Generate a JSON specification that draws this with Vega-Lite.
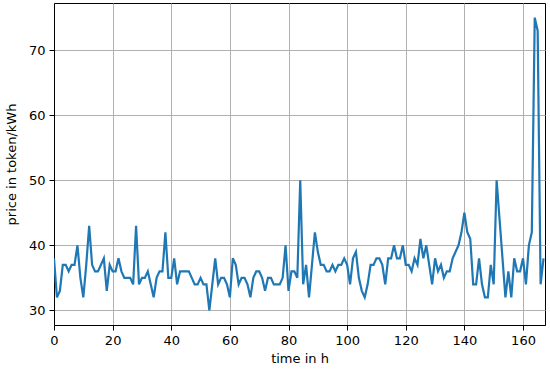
{
  "$schema": "https://vega.github.io/schema/vega-lite/v6.json",
  "autosize": {"type": "none"},
  "width": 491,
  "height": 322,
  "padding": {"left": 54, "top": 3, "right": 5, "bottom": 45},
  "background": "white",
  "config": {
    "view": {"stroke": "black", "strokeWidth": 1},
    "font": "DejaVu Sans",
    "axis": {
      "labelFont": "DejaVu Sans",
      "titleFont": "DejaVu Sans",
      "labelFontSize": 13,
      "titleFontSize": 13,
      "titleFontWeight": "normal",
      "labelColor": "black",
      "titleColor": "black",
      "domainColor": "black",
      "tickColor": "black",
      "tickSize": 5,
      "gridColor": "#b0b0b0",
      "gridWidth": 1,
      "gridOpacity": 1
    }
  },
  "data": {"values": [
    {"t":0,"p":38},{"t":1,"p":32},{"t":2,"p":33},{"t":3,"p":37},{"t":4,"p":37},{"t":5,"p":36},{"t":6,"p":37},{"t":7,"p":37},{"t":8,"p":40},{"t":9,"p":35},
    {"t":10,"p":32},{"t":11,"p":37},{"t":12,"p":43},{"t":13,"p":37},{"t":14,"p":36},{"t":15,"p":36},{"t":16,"p":37},{"t":17,"p":38},{"t":18,"p":33},{"t":19,"p":37},
    {"t":20,"p":36},{"t":21,"p":36},{"t":22,"p":38},{"t":23,"p":36},{"t":24,"p":35},{"t":25,"p":35},{"t":26,"p":35},{"t":27,"p":34},{"t":28,"p":43},{"t":29,"p":34},
    {"t":30,"p":35},{"t":31,"p":35},{"t":32,"p":36},{"t":33,"p":34},{"t":34,"p":32},{"t":35,"p":35},{"t":36,"p":36},{"t":37,"p":36},{"t":38,"p":42},{"t":39,"p":35},
    {"t":40,"p":35},{"t":41,"p":38},{"t":42,"p":34},{"t":43,"p":36},{"t":44,"p":36},{"t":45,"p":36},{"t":46,"p":36},{"t":47,"p":35},{"t":48,"p":34},{"t":49,"p":34},
    {"t":50,"p":35},{"t":51,"p":34},{"t":52,"p":34},{"t":53,"p":30},{"t":54,"p":34},{"t":55,"p":38},{"t":56,"p":34},{"t":57,"p":35},{"t":58,"p":35},{"t":59,"p":34},
    {"t":60,"p":32},{"t":61,"p":38},{"t":62,"p":37},{"t":63,"p":34},{"t":64,"p":35},{"t":65,"p":35},{"t":66,"p":34},{"t":67,"p":32},{"t":68,"p":35},{"t":69,"p":36},
    {"t":70,"p":36},{"t":71,"p":35},{"t":72,"p":33},{"t":73,"p":35},{"t":74,"p":35},{"t":75,"p":34},{"t":76,"p":34},{"t":77,"p":34},{"t":78,"p":35},{"t":79,"p":40},
    {"t":80,"p":33},{"t":81,"p":36},{"t":82,"p":36},{"t":83,"p":35},{"t":84,"p":50},{"t":85,"p":34},{"t":86,"p":37},{"t":87,"p":32},{"t":88,"p":37},{"t":89,"p":42},
    {"t":90,"p":39},{"t":91,"p":37},{"t":92,"p":37},{"t":93,"p":36},{"t":94,"p":36},{"t":95,"p":37},{"t":96,"p":36},{"t":97,"p":37},{"t":98,"p":37},{"t":99,"p":38},
    {"t":100,"p":37},{"t":101,"p":34},{"t":102,"p":38},{"t":103,"p":39},{"t":104,"p":35},{"t":105,"p":33},{"t":106,"p":32},{"t":107,"p":34},{"t":108,"p":37},{"t":109,"p":37},
    {"t":110,"p":38},{"t":111,"p":38},{"t":112,"p":37},{"t":113,"p":34},{"t":114,"p":38},{"t":115,"p":38},{"t":116,"p":40},{"t":117,"p":38},{"t":118,"p":38},{"t":119,"p":40},
    {"t":120,"p":37},{"t":121,"p":37},{"t":122,"p":36},{"t":123,"p":38},{"t":124,"p":37},{"t":125,"p":41},{"t":126,"p":38},{"t":127,"p":40},{"t":128,"p":37},{"t":129,"p":34},
    {"t":130,"p":38},{"t":131,"p":36},{"t":132,"p":37},{"t":133,"p":35},{"t":134,"p":36},{"t":135,"p":36},{"t":136,"p":38},{"t":137,"p":39},{"t":138,"p":40},{"t":139,"p":42},
    {"t":140,"p":45},{"t":141,"p":42},{"t":142,"p":41},{"t":143,"p":34},{"t":144,"p":34},{"t":145,"p":38},{"t":146,"p":34},{"t":147,"p":32},{"t":148,"p":32},{"t":149,"p":37},
    {"t":150,"p":34},{"t":151,"p":50},{"t":152,"p":44},{"t":153,"p":38},{"t":154,"p":32},{"t":155,"p":36},{"t":156,"p":32},{"t":157,"p":38},{"t":158,"p":36},{"t":159,"p":36},
    {"t":160,"p":38},{"t":161,"p":34},{"t":162,"p":40},{"t":163,"p":42},{"t":164,"p":75},{"t":165,"p":73},{"t":166,"p":34},{"t":167,"p":38}
  ]},
  "mark": {"type": "line", "color": "#1f77b4", "strokeWidth": 2.2, "clip": true},
  "encoding": {
    "x": {
      "field": "t", "type": "quantitative",
      "scale": {"domain": [0, 167.5], "nice": false, "zero": false},
      "axis": {"title": "time in h", "values": [0,20,40,60,80,100,120,140,160], "labelPadding": 4, "titlePadding": 5, "labelFlush": false}
    },
    "y": {
      "field": "p", "type": "quantitative",
      "scale": {"domain": [27.75, 77.25], "nice": false, "zero": false},
      "axis": {"title": "price in token/kWh", "values": [30,40,50,60,70], "labelPadding": 4, "titlePadding": 10}
    }
  }
}
